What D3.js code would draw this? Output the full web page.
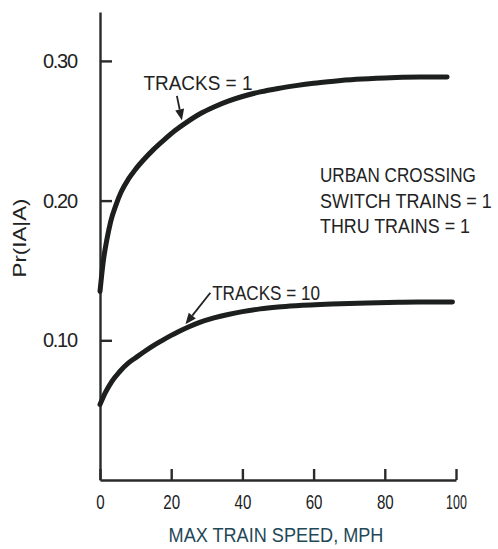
<!DOCTYPE html>
<html lang="en">
<head>
<meta charset="utf-8">
<title>Pr(IA|A) vs max train speed</title>
<script src="https://cdn.jsdelivr.net/npm/d3@7/dist/d3.min.js"></script>
<style>
  body { margin: 0; background: #fff; }
  text { font-family: "Liberation Sans", Arial, sans-serif; fill: #222; }
  .axis path, .axis line { stroke: #2a2a2a; stroke-width: 2.4; }
  .axis text { font-size: 20px; fill: #222; font-family: "Liberation Sans", Arial, sans-serif; }
  .note { font-size: 21px; }
  .curve { fill: none; stroke: #1c1f1e; stroke-width: 5; stroke-linecap: round; stroke-linejoin: round; }
</style>
</head>
<body>
<svg width="498" height="549"></svg>
<script>
// data
var speeds1  = [0, 1, 2, 3, 4.5, 6, 8, 10, 12, 15, 18, 21, 24, 28, 32, 36, 40, 45, 50, 55, 60, 65, 72, 80, 90, 97.5];
var tracks1  = [0.135, 0.158, 0.173, 0.185, 0.197, 0.2065, 0.2155, 0.2225, 0.2285, 0.2365, 0.2435, 0.2500, 0.2555,
                0.2620, 0.2670, 0.2712, 0.2745, 0.2778, 0.2803, 0.2823, 0.2840, 0.2853, 0.2868, 0.2878, 0.2884, 0.2885];
var speeds10 = [0, 1.5, 3.3, 5.5, 8, 10, 12.6, 15, 17.4, 20, 22, 25, 28, 32, 36, 40, 45, 50, 55, 65, 75, 85, 92, 99];
var tracks10 = [0.054, 0.0625, 0.0705, 0.0775, 0.0838, 0.0875, 0.0922, 0.0962, 0.0998, 0.1035, 0.1061, 0.1097,
                0.1128, 0.1160, 0.1185, 0.1205, 0.1225, 0.1238, 0.1247, 0.1259, 0.1267, 0.1272, 0.1274, 0.1275];
var xTicks = [0, 20, 40, 60, 80, 100];
var yTicks = [0.10, 0.20, 0.30];
var infoLines = ["URBAN CROSSING", "SWITCH TRAINS = 1", "THRU TRAINS = 1"];

var svg = d3.select("svg");

var x = d3.scaleLinear().domain([0, 100]).range([100, 456]);
var y = d3.scaleLinear().domain([0, 0.335]).range([480, 12]);

// squeeze text to the narrow lettering of the original
function squeeze(sel, w) {
   sel.attr("textLength", w).attr("lengthAdjust", "spacingAndGlyphs");
}
// same idea, but with a horizontal scale so the box really is that wide
function narrow(sel, w) {
   sel.each(function() {
      var t = d3.select(this);
      var tx = +t.attr("x"), ty = +t.attr("y");
      var k = w / this.getComputedTextLength();
      t.attr("x", 0).attr("y", 0)
       .attr("transform", "translate(" + tx + "," + ty + ") scale(" + k + ",1)");
   });
}
function digitsWidth(s) {
   return s.split("").reduce(function(a, c) { return a + (c === "1" ? 4 : c === "." ? 6 : 8.4); }, 0);
}

// axes, ticks pointing inward
svg.append("g")
   .attr("class", "axis")
   .attr("transform", "translate(0," + y(0) + ")")
   .call(d3.axisBottom(x).tickValues(xTicks).tickFormat(d3.format("d"))
         .tickSizeInner(-11).tickSizeOuter(0).tickPadding(15))
   .selectAll("text")
   .each(function(d) { squeeze(d3.select(this), digitsWidth(String(d))); });

svg.append("g")
   .attr("class", "axis")
   .attr("transform", "translate(" + x(0) + ",0)")
   .call(d3.axisLeft(y).tickValues(yTicks).tickFormat(d3.format(".2f"))
         .tickSizeInner(-12).tickSizeOuter(0).tickPadding(22))
   .selectAll("text")
   .attr("textLength", 35).attr("lengthAdjust", "spacing");

// axis titles
svg.append("text")
   .attr("x", 276).attr("y", 542)
   .attr("text-anchor", "middle")
   .style("font-size", "21px")
   .style("fill", "#1f4858")
   .text("MAX TRAIN SPEED, MPH")
   .call(narrow, 215);

svg.append("text")
   .attr("transform", "translate(26,238) rotate(-90)")
   .attr("text-anchor", "middle")
   .style("font-size", "19px")
   .text("Pr(IA|A)")
   .call(squeeze, 79);

// curves
var line = d3.line()
   .x(function(d) { return x(d[0]); })
   .y(function(d) { return y(d[1]); })
   .curve(d3.curveMonotoneX);

svg.append("path")
   .attr("class", "curve")
   .attr("d", line(d3.zip(speeds1, tracks1)));

svg.append("path")
   .attr("class", "curve")
   .attr("d", line(d3.zip(speeds10, tracks10)));

// labels with arrows
function arrow(x0, y0, x1, y1) {
   var a = Math.atan2(y1 - y0, x1 - x0), L = 11, W = 4.5;
   var bx = x1 - L * Math.cos(a), by = y1 - L * Math.sin(a);
   svg.append("line")
      .attr("x1", x0).attr("y1", y0).attr("x2", bx).attr("y2", by)
      .attr("stroke", "#222").attr("stroke-width", 1.8);
   svg.append("path")
      .attr("d", "M" + x1 + "," + y1 +
                 "L" + (bx + W * Math.sin(a)) + "," + (by - W * Math.cos(a)) +
                 "L" + (bx - W * Math.sin(a)) + "," + (by + W * Math.cos(a)) + "Z")
      .attr("fill", "#222");
}

svg.append("text").attr("class", "note")
   .attr("x", x(12.2)).attr("y", y(0.2795))
   .text("TRACKS = 1")
   .call(narrow, 109);
arrow(x(21.6), y(0.275), x(23), y(0.2575));

svg.append("text").attr("class", "note")
   .attr("x", x(31.5)).attr("y", y(0.1285))
   .text("TRACKS = 10")
   .call(narrow, 108);
arrow(x(31), y(0.134), x(24), y(0.1115));

var infoWidths = [156, 172, 150];
svg.selectAll(".info")
   .data(infoLines)
   .enter()
   .append("text")
   .attr("class", "note info")
   .attr("x", 320)
   .attr("y", function(d, i) { return 182 + i * 25.5; })
   .text(function(d) { return d; })
   .each(function(d, i) { narrow(d3.select(this), infoWidths[i]); });
</script>
</body>
</html>
